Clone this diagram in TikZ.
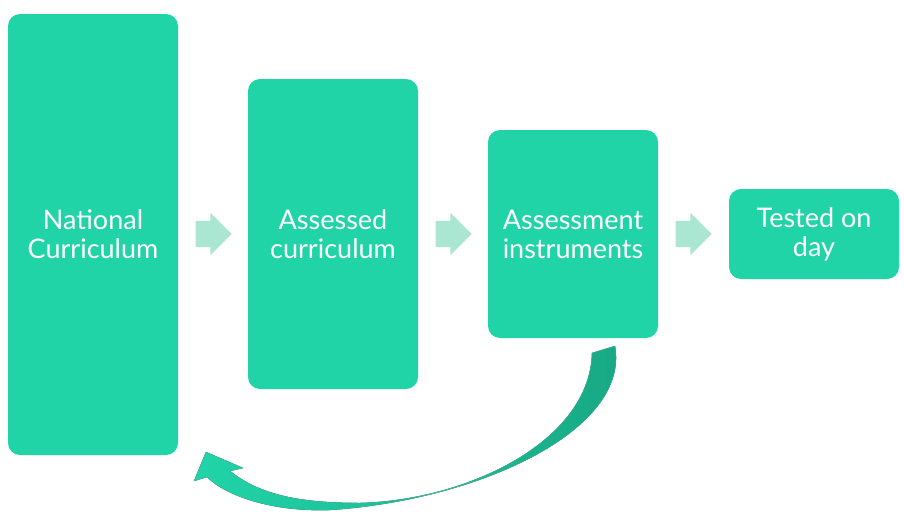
\documentclass[tikz,border=0pt]{standalone}
\usepackage{fontspec}
\setmainfont{Lato}
\usetikzlibrary{shapes.arrows}

\definecolor{boxgreen}{RGB}{33,212,168}
\definecolor{palegreen}{RGB}{170,230,210}
\definecolor{deepgreen}{RGB}{23,168,131}

\begin{document}
\begin{tikzpicture}[
  x=1pt, y=-1pt,
  font=\fontsize{27}{29}\selectfont,
  stage/.style={fill=boxgreen, rounded corners=12pt, align=center, text=white, minimum width=170pt, inner sep=0pt},
  flow/.style={single arrow, fill=palegreen, minimum height=36pt, inner xsep=0pt, inner ysep=13pt, single arrow head extend=8pt, single arrow head indent=0pt}
]
\useasboundingbox (0,0) rectangle (904,514);

\node[stage, minimum height=441pt] (natcurr) at (93,234.5) {National\\Curriculum};
\node[stage, minimum height=310pt] (asscurr) at (333,234) {Assessed\\curriculum};
\node[stage, minimum height=208pt] (instr) at (573,234) {Assessment\\instruments};
\node[stage, minimum height=90pt] (tested) at (814,234) {Tested on\\day};

\node[flow] (arr1) at (207,234) {};
\node[flow] (arr2) at (447,234) {};
\node[flow] (arr3) at (687,234) {};

% curved feedback arrow
\coordinate (tail) at (615,346);
\coordinate (tip) at (194,481);
\fill[left color=boxgreen, right color=deepgreen, draw=deepgreen!80, line width=0.4pt]
  (tail) .. controls (630,430) and (480,500) .. (330,510)
  .. controls (270,512) and (225,495) .. (207,477)
  -- (tip) -- (206,452) -- (243,468) -- (230,471)
  .. controls (260,495) and (300,503) .. (360,503)
  .. controls (470,500) and (590,440) .. (592,353) -- cycle;

\end{tikzpicture}
\end{document}
